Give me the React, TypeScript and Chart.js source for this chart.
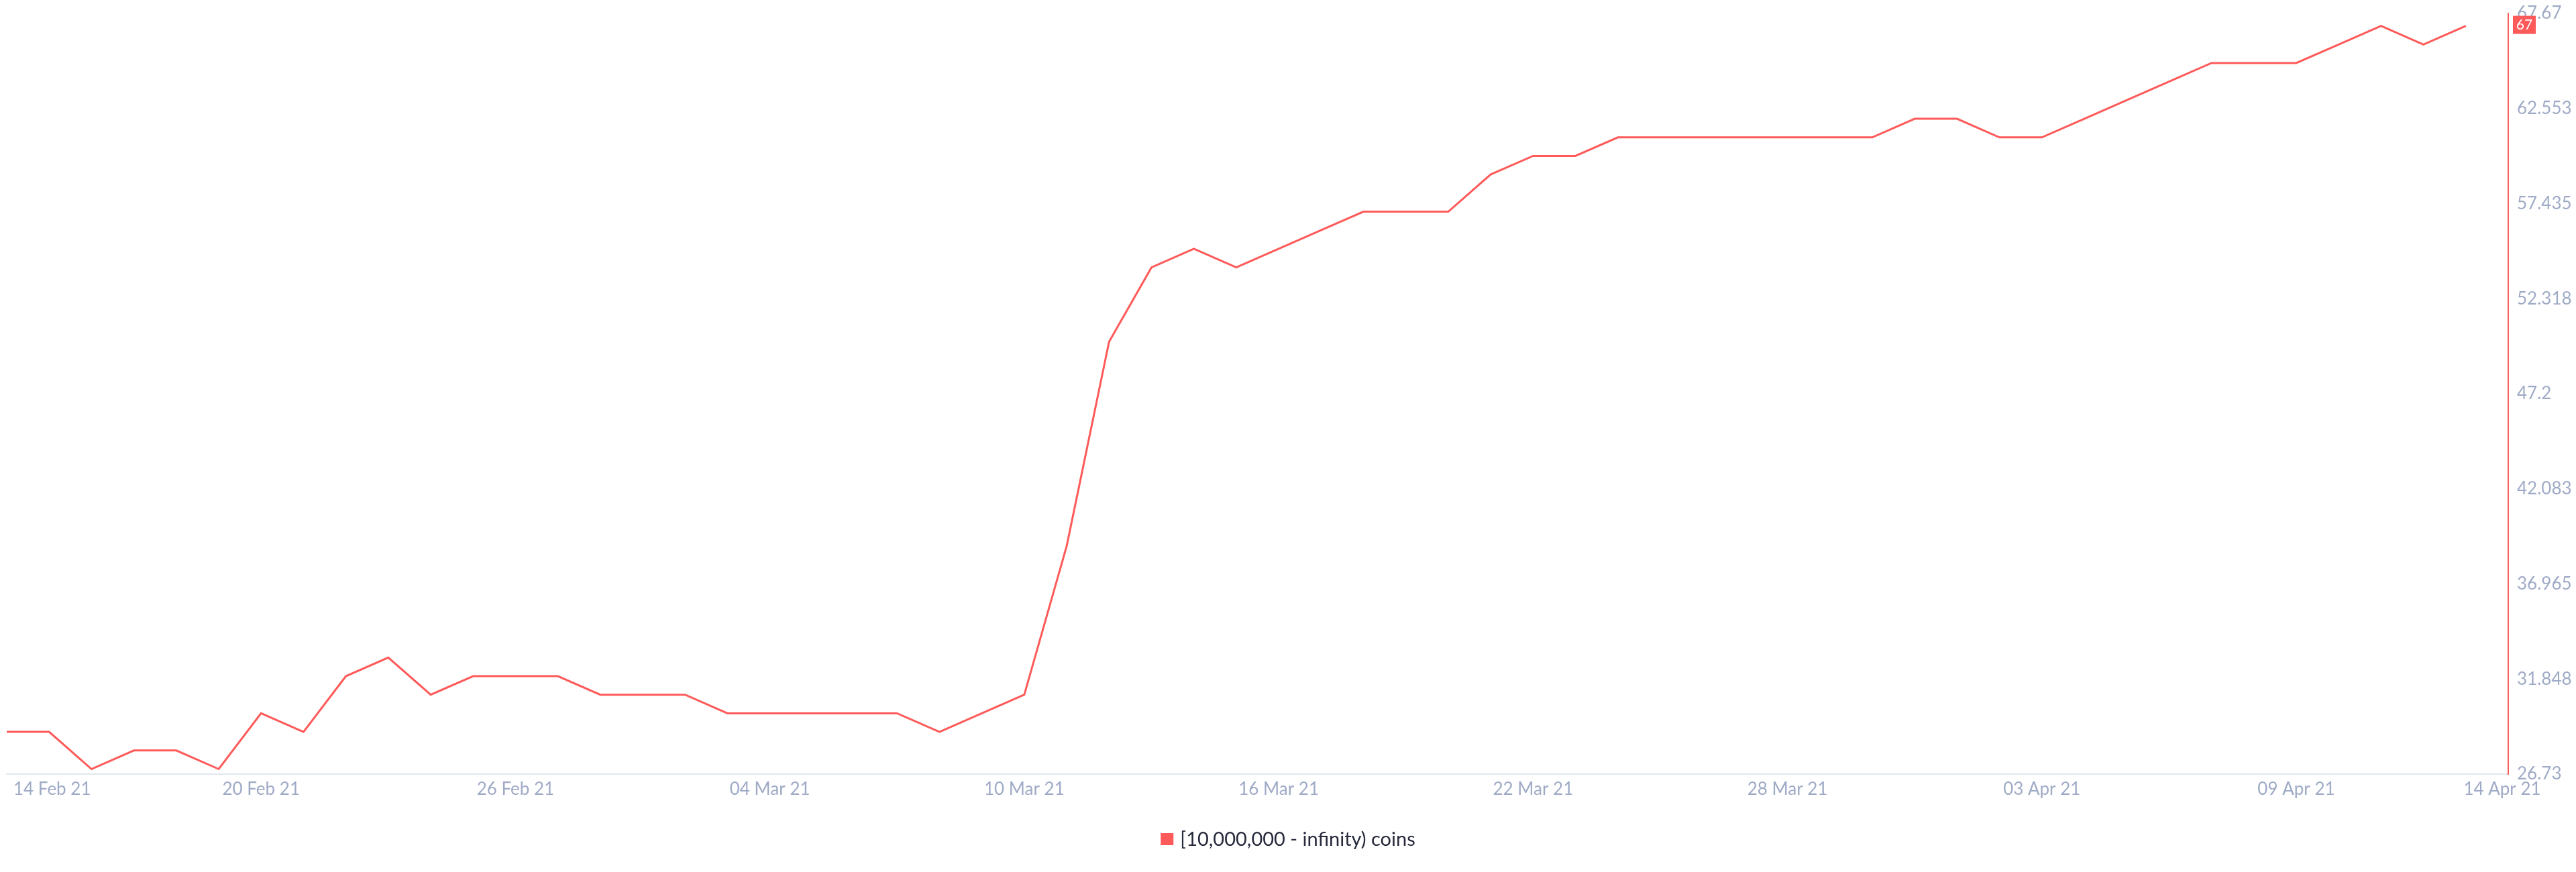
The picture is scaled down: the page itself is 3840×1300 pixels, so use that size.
import React, { useEffect, useRef } from "react";
import { Chart, registerables } from "chart.js";

Chart.register(...registerables);

// Daily categories, 14 Feb 21 through 14 Apr 21
const dates: string[] = [
  "14 Feb 21", "15 Feb 21", "16 Feb 21", "17 Feb 21", "18 Feb 21", "19 Feb 21", "20 Feb 21",
  "21 Feb 21", "22 Feb 21", "23 Feb 21", "24 Feb 21", "25 Feb 21", "26 Feb 21", "27 Feb 21",
  "28 Feb 21", "01 Mar 21", "02 Mar 21", "03 Mar 21", "04 Mar 21", "05 Mar 21", "06 Mar 21",
  "07 Mar 21", "08 Mar 21", "09 Mar 21", "10 Mar 21", "11 Mar 21", "12 Mar 21", "13 Mar 21",
  "14 Mar 21", "15 Mar 21", "16 Mar 21", "17 Mar 21", "18 Mar 21", "19 Mar 21", "20 Mar 21",
  "21 Mar 21", "22 Mar 21", "23 Mar 21", "24 Mar 21", "25 Mar 21", "26 Mar 21", "27 Mar 21",
  "28 Mar 21", "29 Mar 21", "30 Mar 21", "31 Mar 21", "01 Apr 21", "02 Apr 21", "03 Apr 21",
  "04 Apr 21", "05 Apr 21", "06 Apr 21", "07 Apr 21", "08 Apr 21", "09 Apr 21", "10 Apr 21",
  "11 Apr 21", "12 Apr 21", "13 Apr 21", "14 Apr 21",
];

// Number of addresses holding 10M+ coins
const holders: (number | null)[] = [
  29, 29, 27, 28, 28, 27, 30, 29, 32, 33, 31, 32, 32, 32, 31,
  31, 31, 30, 30, 30, 30, 30, 29, 30, 31, 39, 50, 54, 55, 54,
  55, 56, 57, 57, 57, 59, 60, 60, 61, 61, 61, 61, 61, 61, 61,
  62, 62, 61, 61, 62, 63, 64, 65, 65, 65, 66, 67, 66, 67, null,
];

const seriesName = "[10,000,000 - infinity) coins";

// Dates shown under the axis
const xTickLabels: string[] = [
  "14 Feb 21", "20 Feb 21", "26 Feb 21", "04 Mar 21", "10 Mar 21", "16 Mar 21",
  "22 Mar 21", "28 Mar 21", "03 Apr 21", "09 Apr 21", "14 Apr 21",
];

// Value axis ticks
const yTickValues: number[] = [26.73, 31.8475, 36.965, 42.0825, 47.2, 52.3175, 57.435, 62.5525, 67.67];
const yTickLabels: string[] = ["26.73", "31.848", "36.965", "42.083", "47.2", "52.318", "57.435", "62.553", "67.67"];

const RED = "#ff5a5a";
const TICK_COLOR = "#9faac6";
const FONT = "Lato, 'Open Sans', sans-serif";

const overlayPlugin = {
  id: "overlay",
  afterDraw(chart: any) {
    const { ctx, chartArea } = chart;
    const xs = chart.scales.x;
    const ys = chart.scales.y;
    ctx.save();

    // date labels under the axis
    ctx.font = `26px ${FONT}`;
    ctx.fillStyle = TICK_COLOR;
    ctx.textBaseline = "middle";
    xTickLabels.forEach((lab, i) => {
      const idx = dates.indexOf(lab);
      const px = xs.getPixelForValue(idx);
      if (i === 0) {
        ctx.textAlign = "left";
        ctx.fillText(lab, px + 10, chartArea.bottom + 23);
      } else if (i === xTickLabels.length - 1) {
        ctx.textAlign = "center";
        ctx.fillText(lab, px - 9, chartArea.bottom + 23);
      } else {
        ctx.textAlign = "center";
        ctx.fillText(lab, px, chartArea.bottom + 23);
      }
    });

    // last value badge on the value axis
    let last: number | null = null;
    for (let i = holders.length - 1; i >= 0; i--) {
      if (holders[i] !== null) { last = holders[i]; break; }
    }
    if (last !== null) {
      const py = ys.getPixelForValue(last);
      const bx = chartArea.right + 7;
      const bw = 34;
      const bh = 27;
      ctx.fillStyle = RED;
      ctx.fillRect(bx, py - bh / 2 - 1.5, bw, bh);
      ctx.fillStyle = "#ffffff";
      ctx.font = `21px ${FONT}`;
      ctx.textAlign = "center";
      ctx.textBaseline = "middle";
      ctx.fillText(String(last), bx + bw / 2, py - 1);
    }

    // legend
    ctx.font = `29px ${FONT}`;
    const tw = ctx.measureText(seriesName).width;
    const box = 19;
    const gap = 10;
    const total = box + gap + tw;
    const startX = chart.width / 2 - total / 2;
    const ly = 1251;
    ctx.fillStyle = RED;
    ctx.fillRect(startX, ly - 9, box, 18);
    ctx.fillStyle = "#262a3c";
    ctx.textAlign = "left";
    ctx.textBaseline = "middle";
    ctx.fillText(seriesName, startX + box + gap, ly + 1);

    ctx.restore();
  },
};

export default function App() {
  const canvasRef = useRef<HTMLCanvasElement | null>(null);

  useEffect(() => {
    if (!canvasRef.current) return;
    const chart = new Chart(canvasRef.current, {
      type: "line",
      data: {
        labels: dates,
        datasets: [
          {
            label: seriesName,
            data: holders,
            borderColor: RED,
            backgroundColor: RED,
            borderWidth: 3,
            pointRadius: 0,
            pointHoverRadius: 0,
            tension: 0,
            fill: false,
            spanGaps: false,
          },
        ],
      },
      options: {
        animation: false,
        responsive: false,
        maintainAspectRatio: false,
        devicePixelRatio: 1,
        layout: { padding: { left: 10, top: 20, right: 0, bottom: 0 } },
        plugins: {
          legend: { display: false },
          tooltip: { enabled: false },
        },
        scales: {
          x: {
            type: "category",
            offset: false,
            grid: { display: false, drawTicks: false },
            border: { display: true, color: "#e2e6f0", width: 2 },
            ticks: { display: false },
            afterFit: (scale: any) => {
              scale.height = 146;
              scale.paddingLeft = 0;
              scale.paddingRight = 0;
            },
          },
          y: {
            position: "right",
            min: 26.73,
            max: 67.67,
            grid: { display: false, drawTicks: false, drawOnChartArea: false },
            border: { display: true, color: RED, width: 2 },
            afterBuildTicks: (scale: any) => {
              scale.ticks = yTickValues.map((v) => ({ value: v }));
            },
            ticks: {
              color: TICK_COLOR,
              font: { family: FONT, size: 26 },
              padding: 13,
              callback: (_v: any, i: number) => yTickLabels[i],
            },
            afterFit: (scale: any) => {
              scale.width = 101;
              scale.paddingTop = 0;
              scale.paddingBottom = 0;
            },
          },
        },
      },
      plugins: [overlayPlugin],
    });
    return () => chart.destroy();
  }, []);

  return (
    <div style={{ position: "fixed", left: 0, top: 0, width: 3840, height: 1300, background: "#ffffff" }}>
      <canvas ref={canvasRef} width={3840} height={1300} style={{ display: "block", width: 3840, height: 1300 }} />
    </div>
  );
}
